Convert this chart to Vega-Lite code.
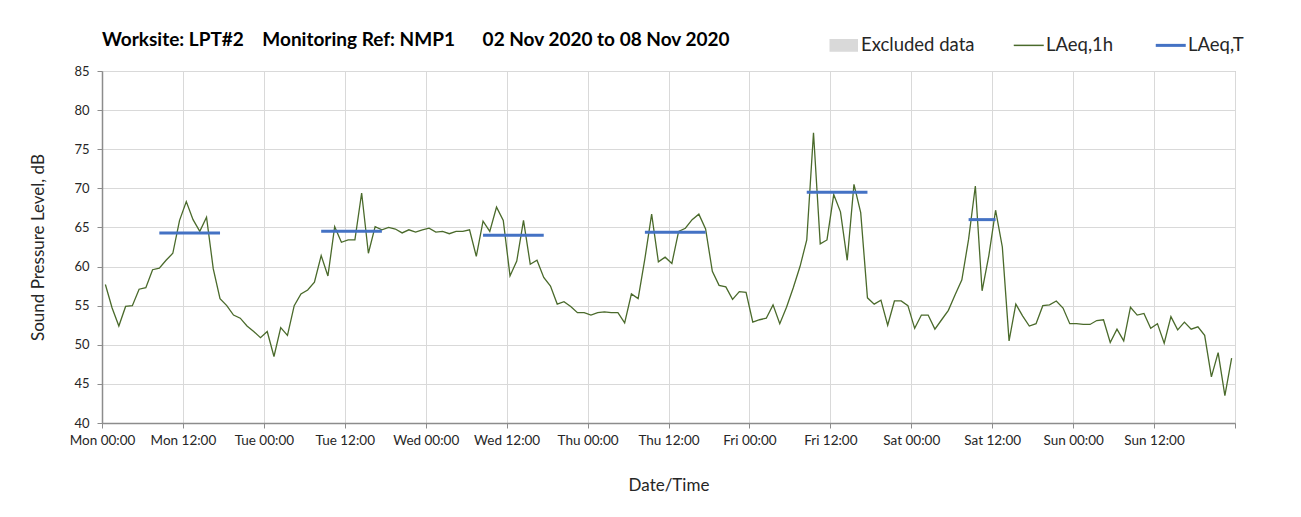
{
  "$schema": "https://vega.github.io/schema/vega-lite/v6.json",
  "width": 1133,
  "height": 352,
  "autosize": {"type": "none"},
  "padding": {"left": 102, "top": 71, "right": 66, "bottom": 94},
  "background": "#ffffff",
  "title": {
    "text": "Worksite: LPT#2\u00a0\u00a0\u00a0 Monitoring Ref: NMP1\u00a0\u00a0\u00a0\u00a0\u00a0 02 Nov 2020 to 08 Nov 2020",
    "anchor": "start",
    "frame": "group",
    "offset": -14,
    "font": "Lato",
    "fontSize": 19,
    "fontWeight": "bold",
    "color": "#000000"
  },
  "datasets": {
    "hourly": [
      {"t":0.5,"v":57.7},{"t":1.5,"v":54.7},{"t":2.5,"v":52.4},{"t":3.5,"v":54.9},{"t":4.5,"v":55.0},{"t":5.5,"v":57.1},{"t":6.5,"v":57.3},{"t":7.5,"v":59.6},{"t":8.5,"v":59.8},{"t":9.5,"v":60.8},{"t":10.5,"v":61.7},{"t":11.5,"v":65.9},{"t":12.5,"v":68.3},{"t":13.5,"v":66.0},{"t":14.5,"v":64.5},{"t":15.5,"v":66.3},{"t":16.5,"v":59.7},{"t":17.5,"v":55.9},{"t":18.5,"v":55.0},{"t":19.5,"v":53.8},{"t":20.5,"v":53.4},{"t":21.5,"v":52.4},{"t":22.5,"v":51.7},{"t":23.5,"v":50.9},
      {"t":24.5,"v":51.7},{"t":25.5,"v":48.5},{"t":26.5,"v":52.2},{"t":27.5,"v":51.2},{"t":28.5,"v":55.0},{"t":29.5,"v":56.5},{"t":30.5,"v":57.0},{"t":31.5,"v":58.0},{"t":32.5,"v":61.4},{"t":33.5,"v":58.8},{"t":34.5,"v":65.1},{"t":35.5,"v":63.1},{"t":36.5,"v":63.4},{"t":37.5,"v":63.4},{"t":38.5,"v":69.4},{"t":39.5,"v":61.7},{"t":40.5,"v":65.1},{"t":41.5,"v":64.7},{"t":42.5,"v":65.0},{"t":43.5,"v":64.8},{"t":44.5,"v":64.3},{"t":45.5,"v":64.7},{"t":46.5,"v":64.4},{"t":47.5,"v":64.7},
      {"t":48.5,"v":64.9},{"t":49.5,"v":64.4},{"t":50.5,"v":64.5},{"t":51.5,"v":64.2},{"t":52.5,"v":64.5},{"t":53.5,"v":64.5},{"t":54.5,"v":64.7},{"t":55.5,"v":61.3},{"t":56.5,"v":65.8},{"t":57.5,"v":64.5},{"t":58.5,"v":67.6},{"t":59.5,"v":65.9},{"t":60.5,"v":58.8},{"t":61.5,"v":60.7},{"t":62.5,"v":65.9},{"t":63.5,"v":60.3},{"t":64.5,"v":60.8},{"t":65.5,"v":58.6},{"t":66.5,"v":57.5},{"t":67.5,"v":55.2},{"t":68.5,"v":55.5},{"t":69.5,"v":54.9},{"t":70.5,"v":54.1},{"t":71.5,"v":54.1},
      {"t":72.5,"v":53.8},{"t":73.5,"v":54.1},{"t":74.5,"v":54.2},{"t":75.5,"v":54.1},{"t":76.5,"v":54.1},{"t":77.5,"v":52.8},{"t":78.5,"v":56.5},{"t":79.5,"v":55.9},{"t":80.5,"v":61.0},{"t":81.5,"v":66.7},{"t":82.5,"v":60.6},{"t":83.5,"v":61.2},{"t":84.5,"v":60.4},{"t":85.5,"v":64.5},{"t":86.5,"v":64.9},{"t":87.5,"v":66.0},{"t":88.5,"v":66.7},{"t":89.5,"v":64.8},{"t":90.5,"v":59.4},{"t":91.5,"v":57.6},{"t":92.5,"v":57.4},{"t":93.5,"v":55.8},{"t":94.5,"v":56.8},{"t":95.5,"v":56.7},
      {"t":96.5,"v":52.9},{"t":97.5,"v":53.2},{"t":98.5,"v":53.4},{"t":99.5,"v":55.1},{"t":100.5,"v":52.7},{"t":101.5,"v":54.8},{"t":102.5,"v":57.3},{"t":103.5,"v":60.0},{"t":104.5,"v":63.4},{"t":105.5,"v":77.1},{"t":106.5,"v":62.9},{"t":107.5,"v":63.4},{"t":108.5,"v":69.2},{"t":109.5,"v":67.0},{"t":110.5,"v":60.8},{"t":111.5,"v":70.5},{"t":112.5,"v":66.9},{"t":113.5,"v":56.0},{"t":114.5,"v":55.2},{"t":115.5,"v":55.7},{"t":116.5,"v":52.5},{"t":117.5,"v":55.6},{"t":118.5,"v":55.6},{"t":119.5,"v":55.0},
      {"t":120.5,"v":52.1},{"t":121.5,"v":53.8},{"t":122.5,"v":53.8},{"t":123.5,"v":52.0},{"t":124.5,"v":53.2},{"t":125.5,"v":54.4},{"t":126.5,"v":56.4},{"t":127.5,"v":58.3},{"t":128.5,"v":63.5},{"t":129.5,"v":70.3},{"t":130.5,"v":56.9},{"t":131.5,"v":61.4},{"t":132.5,"v":67.2},{"t":133.5,"v":62.5},{"t":134.5,"v":50.5},{"t":135.5,"v":55.2},{"t":136.5,"v":53.7},{"t":137.5,"v":52.4},{"t":138.5,"v":52.7},{"t":139.5,"v":55.0},{"t":140.5,"v":55.1},{"t":141.5,"v":55.6},{"t":142.5,"v":54.7},{"t":143.5,"v":52.7},
      {"t":144.5,"v":52.7},{"t":145.5,"v":52.6},{"t":146.5,"v":52.6},{"t":147.5,"v":53.1},{"t":148.5,"v":53.2},{"t":149.5,"v":50.3},{"t":150.5,"v":52.0},{"t":151.5,"v":50.5},{"t":152.5,"v":54.8},{"t":153.5,"v":53.8},{"t":154.5,"v":54.0},{"t":155.5,"v":52.1},{"t":156.5,"v":52.7},{"t":157.5,"v":50.2},{"t":158.5,"v":53.6},{"t":159.5,"v":51.9},{"t":160.5,"v":52.9},{"t":161.5,"v":52.0},{"t":162.5,"v":52.3},{"t":163.5,"v":51.2},{"t":164.5,"v":45.9},{"t":165.5,"v":49.0},{"t":166.5,"v":43.5},{"t":167.5,"v":48.3}
    ],
    "period": [
      {"day":"Mon","t0":8.5,"t1":17.5,"v":64.3},
      {"day":"Tue","t0":32.5,"t1":41.5,"v":64.5},
      {"day":"Wed","t0":56.5,"t1":65.5,"v":64.0},
      {"day":"Thu","t0":80.5,"t1":89.5,"v":64.4},
      {"day":"Fri","t0":104.5,"t1":113.5,"v":69.5},
      {"day":"Sat","t0":128.5,"t1":132.5,"v":66.0}
    ]
  },
  "layer": [
    {
      "data": {"name": "hourly"},
      "mark": {"type": "line", "strokeWidth": 1.3, "interpolate": "linear"},
      "encoding": {
        "x": {
          "field": "t",
          "type": "quantitative",
          "scale": {"domain": [0, 168], "nice": false, "zero": false},
          "axis": {
            "values": [0, 12, 24, 36, 48, 60, 72, 84, 96, 108, 120, 132, 144, 156, 168],
            "labelExpr": "datum.value >= 168 ? '' : ['Mon','Tue','Wed','Thu','Fri','Sat','Sun'][floor(datum.value / 24)] + (datum.value % 24 == 0 ? ' 00:00' : ' 12:00')",
            "grid": true,
            "title": "Date/Time",
            "labelOverlap": false,
            "labelFlush": false,
            "labelFontSize": 13.5,
            "labelPadding": 5,
            "titlePadding": 31
          }
        },
        "y": {
          "field": "v",
          "type": "quantitative",
          "scale": {"domain": [40, 85], "nice": false, "zero": false},
          "axis": {
            "values": [40, 45, 50, 55, 60, 65, 70, 75, 80, 85],
            "grid": true,
            "title": "Sound Pressure Level, dB",
            "labelOverlap": false,
            "labelFlush": false,
            "labelFontSize": 13,
            "labelPadding": 8,
            "titlePadding": 26
          }
        },
        "color": {
          "datum": "LAeq,1h",
          "scale": {
            "domain": ["Excluded data", "LAeq,1h", "LAeq,T"],
            "range": ["#d9d9d9", "#4a6a2b", "#4472c4"]
          },
          "legend": {
            "orient": "none",
            "legendX": 732.5,
            "legendY": -35,
            "direction": "horizontal",
            "title": null,
            "padding": 0,
            "labelFont": "Lato",
            "labelFontSize": 18.5,
            "labelColor": "#262626",
            "labelOffset": 8,
            "columnPadding": 36,
            "symbolSize": 900,
            "encode": {
              "symbols": {
                "update": {
                  "shape": {"signal": "datum.value === 'Excluded data' ? 'M-0.9,-0.37H0.9V0.37H-0.9Z' : 'stroke'"},
                  "fill": {"signal": "datum.value === 'Excluded data' ? '#d9d9d9' : 'transparent'"},
                  "stroke": {"signal": "datum.value === 'Excluded data' ? 'transparent' : (datum.value === 'LAeq,1h' ? '#4a6a2b' : '#4472c4')"},
                  "strokeWidth": {"signal": "datum.value === 'LAeq,T' ? 3 : 1.5"},
                  "opacity": {"value": 1}
                }
              }
            }
          }
        }
      }
    },
    {
      "data": {"name": "period"},
      "mark": {"type": "rule", "strokeWidth": 3, "strokeCap": "butt"},
      "encoding": {
        "x": {
          "field": "t0",
          "type": "quantitative",
          "axis": {
            "values": [0, 12, 24, 36, 48, 60, 72, 84, 96, 108, 120, 132, 144, 156, 168],
            "labelExpr": "datum.value >= 168 ? '' : ['Mon','Tue','Wed','Thu','Fri','Sat','Sun'][floor(datum.value / 24)] + (datum.value % 24 == 0 ? ' 00:00' : ' 12:00')",
            "grid": true,
            "title": "Date/Time",
            "labelOverlap": false,
            "labelFlush": false,
            "labelFontSize": 13.5,
            "labelPadding": 5,
            "titlePadding": 31
          }
        },
        "x2": {"field": "t1"},
        "y": {
          "field": "v",
          "type": "quantitative",
          "axis": {
            "values": [40, 45, 50, 55, 60, 65, 70, 75, 80, 85],
            "grid": true,
            "title": "Sound Pressure Level, dB",
            "labelOverlap": false,
            "labelFlush": false,
            "labelFontSize": 13,
            "labelPadding": 8,
            "titlePadding": 26
          }
        },
        "color": {"datum": "LAeq,T"}
      }
    }
  ],
  "config": {
    "font": "Lato",
    "view": {"stroke": "#a6a6a6", "strokeWidth": 1},
    "axis": {
      "gridColor": "#d9d9d9",
      "gridWidth": 1,
      "domainColor": "#8c8c8c",
      "domainWidth": 1.5,
      "tickColor": "#8c8c8c",
      "tickSize": 5,
      "labelFont": "Lato",
      "labelColor": "#262626",
      "titleFont": "Lato",
      "titleFontSize": 17,
      "titleFontWeight": "normal",
      "titleColor": "#262626"
    }
  }
}
